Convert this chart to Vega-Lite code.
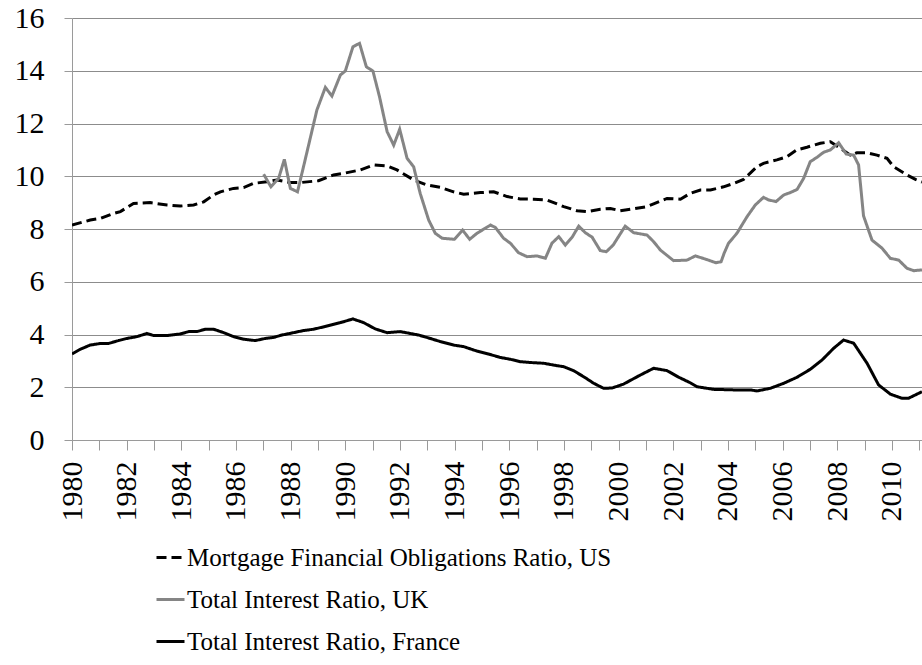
{
  "$schema": "https://vega.github.io/schema/vega-lite/v6.json",
  "autosize": {"type": "none"},
  "padding": {"left": 72, "top": 18, "right": 0, "bottom": 225},
  "width": 850,
  "height": 422,
  "background": "white",
  "config": {"view": {"stroke": null}, "font": "Liberation Serif"},
  "data": {"values": [
{"s":"US","year":1980.0,"value":8.15},{"s":"US","year":1980.67,"value":8.34},{"s":"US","year":1981.04,"value":8.40},{"s":"US","year":1981.52,"value":8.59},{"s":"US","year":1981.77,"value":8.66},{"s":"US","year":1982.25,"value":8.97},{"s":"US","year":1982.86,"value":9.0},{"s":"US","year":1983.48,"value":8.91},{"s":"US","year":1983.96,"value":8.87},{"s":"US","year":1984.45,"value":8.91},{"s":"US","year":1984.82,"value":9.03},{"s":"US","year":1985.18,"value":9.29},{"s":"US","year":1985.43,"value":9.41},{"s":"US","year":1985.91,"value":9.54},{"s":"US","year":1986.28,"value":9.57},{"s":"US","year":1986.64,"value":9.73},{"s":"US","year":1987.13,"value":9.79},{"s":"US","year":1987.5,"value":9.86},{"s":"US","year":1987.99,"value":9.76},{"s":"US","year":1988.35,"value":9.76},{"s":"US","year":1989.02,"value":9.83},{"s":"US","year":1989.57,"value":10.05},{"s":"US","year":1989.94,"value":10.11},{"s":"US","year":1990.55,"value":10.24},{"s":"US","year":1991.04,"value":10.43},{"s":"US","year":1991.53,"value":10.39},{"s":"US","year":1991.89,"value":10.24},{"s":"US","year":1992.5,"value":9.86},{"s":"US","year":1992.99,"value":9.67},{"s":"US","year":1993.48,"value":9.58},{"s":"US","year":1993.96,"value":9.41},{"s":"US","year":1994.33,"value":9.32},{"s":"US","year":1994.94,"value":9.38},{"s":"US","year":1995.43,"value":9.41},{"s":"US","year":1995.92,"value":9.23},{"s":"US","year":1996.4,"value":9.14},{"s":"US","year":1996.89,"value":9.13},{"s":"US","year":1997.38,"value":9.10},{"s":"US","year":1997.99,"value":8.85},{"s":"US","year":1998.48,"value":8.69},{"s":"US","year":1998.84,"value":8.66},{"s":"US","year":1999.33,"value":8.75},{"s":"US","year":1999.7,"value":8.78},{"s":"US","year":2000.06,"value":8.69},{"s":"US","year":2000.43,"value":8.75},{"s":"US","year":2001.04,"value":8.85},{"s":"US","year":2001.28,"value":8.95},{"s":"US","year":2001.77,"value":9.16},{"s":"US","year":2002.26,"value":9.13},{"s":"US","year":2002.62,"value":9.35},{"s":"US","year":2002.99,"value":9.48},{"s":"US","year":2003.36,"value":9.48},{"s":"US","year":2003.84,"value":9.6},{"s":"US","year":2004.21,"value":9.73},{"s":"US","year":2004.57,"value":9.88},{"s":"US","year":2005.06,"value":10.36},{"s":"US","year":2005.3,"value":10.49},{"s":"US","year":2005.79,"value":10.62},{"s":"US","year":2006.16,"value":10.74},{"s":"US","year":2006.52,"value":11.0},{"s":"US","year":2006.89,"value":11.1},{"s":"US","year":2007.38,"value":11.25},{"s":"US","year":2007.75,"value":11.31},{"s":"US","year":2008.11,"value":11.06},{"s":"US","year":2008.48,"value":10.8},{"s":"US","year":2008.72,"value":10.89},{"s":"US","year":2009.09,"value":10.89},{"s":"US","year":2009.45,"value":10.8},{"s":"US","year":2009.82,"value":10.68},{"s":"US","year":2010.06,"value":10.36},{"s":"US","year":2010.55,"value":10.05},{"s":"US","year":2010.86,"value":9.88},{"s":"US","year":2011.1,"value":9.78},
{"s":"UK","year":1987.01,"value":10.08},{"s":"UK","year":1987.28,"value":9.6},{"s":"UK","year":1987.56,"value":9.92},{"s":"UK","year":1987.77,"value":10.64},{"s":"UK","year":1987.99,"value":9.54},{"s":"UK","year":1988.25,"value":9.41},{"s":"UK","year":1988.5,"value":10.49},{"s":"UK","year":1988.78,"value":11.72},{"s":"UK","year":1988.96,"value":12.51},{"s":"UK","year":1989.27,"value":13.37},{"s":"UK","year":1989.51,"value":13.04},{"s":"UK","year":1989.82,"value":13.84},{"s":"UK","year":1990.0,"value":13.99},{"s":"UK","year":1990.28,"value":14.91},{"s":"UK","year":1990.52,"value":15.04},{"s":"UK","year":1990.77,"value":14.15},{"s":"UK","year":1991.01,"value":13.99},{"s":"UK","year":1991.25,"value":13.02},{"s":"UK","year":1991.53,"value":11.69},{"s":"UK","year":1991.77,"value":11.18},{"s":"UK","year":1991.99,"value":11.78},{"s":"UK","year":1992.26,"value":10.68},{"s":"UK","year":1992.5,"value":10.36},{"s":"UK","year":1992.74,"value":9.35},{"s":"UK","year":1993.05,"value":8.34},{"s":"UK","year":1993.29,"value":7.84},{"s":"UK","year":1993.54,"value":7.65},{"s":"UK","year":1993.99,"value":7.61},{"s":"UK","year":1994.29,"value":7.96},{"s":"UK","year":1994.55,"value":7.61},{"s":"UK","year":1994.82,"value":7.84},{"s":"UK","year":1995.31,"value":8.15},{"s":"UK","year":1995.49,"value":8.06},{"s":"UK","year":1995.79,"value":7.65},{"s":"UK","year":1996.04,"value":7.46},{"s":"UK","year":1996.34,"value":7.1},{"s":"UK","year":1996.65,"value":6.95},{"s":"UK","year":1997.01,"value":6.98},{"s":"UK","year":1997.32,"value":6.89},{"s":"UK","year":1997.56,"value":7.46},{"s":"UK","year":1997.81,"value":7.71},{"s":"UK","year":1998.05,"value":7.39},{"s":"UK","year":1998.3,"value":7.69},{"s":"UK","year":1998.54,"value":8.11},{"s":"UK","year":1998.78,"value":7.86},{"s":"UK","year":1999.03,"value":7.69},{"s":"UK","year":1999.33,"value":7.18},{"s":"UK","year":1999.55,"value":7.14},{"s":"UK","year":1999.8,"value":7.39},{"s":"UK","year":2000.24,"value":8.11},{"s":"UK","year":2000.55,"value":7.86},{"s":"UK","year":2001.04,"value":7.77},{"s":"UK","year":2001.28,"value":7.52},{"s":"UK","year":2001.53,"value":7.2},{"s":"UK","year":2002.01,"value":6.8},{"s":"UK","year":2002.5,"value":6.82},{"s":"UK","year":2002.81,"value":6.98},{"s":"UK","year":2003.2,"value":6.85},{"s":"UK","year":2003.56,"value":6.72},{"s":"UK","year":2003.75,"value":6.76},{"s":"UK","year":2003.86,"value":7.08},{"s":"UK","year":2004.02,"value":7.46},{"s":"UK","year":2004.33,"value":7.84},{"s":"UK","year":2004.7,"value":8.47},{"s":"UK","year":2005.0,"value":8.91},{"s":"UK","year":2005.3,"value":9.2},{"s":"UK","year":2005.49,"value":9.1},{"s":"UK","year":2005.76,"value":9.04},{"s":"UK","year":2006.04,"value":9.29},{"s":"UK","year":2006.28,"value":9.38},{"s":"UK","year":2006.53,"value":9.5},{"s":"UK","year":2006.77,"value":9.92},{"s":"UK","year":2007.01,"value":10.55},{"s":"UK","year":2007.26,"value":10.72},{"s":"UK","year":2007.5,"value":10.91},{"s":"UK","year":2007.75,"value":11.0},{"s":"UK","year":2008.05,"value":11.27},{"s":"UK","year":2008.33,"value":10.84},{"s":"UK","year":2008.6,"value":10.8},{"s":"UK","year":2008.78,"value":10.43},{"s":"UK","year":2008.96,"value":8.5},{"s":"UK","year":2009.27,"value":7.58},{"s":"UK","year":2009.64,"value":7.27},{"s":"UK","year":2009.94,"value":6.89},{"s":"UK","year":2010.25,"value":6.82},{"s":"UK","year":2010.55,"value":6.51},{"s":"UK","year":2010.8,"value":6.42},{"s":"UK","year":2011.1,"value":6.45},
{"s":"FR","year":1980.0,"value":3.26},{"s":"FR","year":1980.3,"value":3.44},{"s":"FR","year":1980.67,"value":3.6},{"s":"FR","year":1981.04,"value":3.66},{"s":"FR","year":1981.34,"value":3.66},{"s":"FR","year":1981.7,"value":3.77},{"s":"FR","year":1982.01,"value":3.85},{"s":"FR","year":1982.38,"value":3.92},{"s":"FR","year":1982.74,"value":4.04},{"s":"FR","year":1982.99,"value":3.96},{"s":"FR","year":1983.48,"value":3.96},{"s":"FR","year":1983.96,"value":4.02},{"s":"FR","year":1984.27,"value":4.11},{"s":"FR","year":1984.57,"value":4.11},{"s":"FR","year":1984.88,"value":4.2},{"s":"FR","year":1985.18,"value":4.2},{"s":"FR","year":1985.55,"value":4.07},{"s":"FR","year":1985.91,"value":3.92},{"s":"FR","year":1986.28,"value":3.82},{"s":"FR","year":1986.71,"value":3.77},{"s":"FR","year":1987.07,"value":3.85},{"s":"FR","year":1987.38,"value":3.89},{"s":"FR","year":1987.68,"value":3.98},{"s":"FR","year":1988.11,"value":4.07},{"s":"FR","year":1988.47,"value":4.15},{"s":"FR","year":1988.84,"value":4.2},{"s":"FR","year":1989.33,"value":4.32},{"s":"FR","year":1989.82,"value":4.45},{"s":"FR","year":1990.28,"value":4.59},{"s":"FR","year":1990.67,"value":4.45},{"s":"FR","year":1991.1,"value":4.21},{"s":"FR","year":1991.53,"value":4.07},{"s":"FR","year":1992.01,"value":4.11},{"s":"FR","year":1992.68,"value":3.98},{"s":"FR","year":1993.11,"value":3.85},{"s":"FR","year":1993.48,"value":3.73},{"s":"FR","year":1993.96,"value":3.6},{"s":"FR","year":1994.33,"value":3.54},{"s":"FR","year":1994.82,"value":3.37},{"s":"FR","year":1995.24,"value":3.26},{"s":"FR","year":1995.67,"value":3.13},{"s":"FR","year":1996.04,"value":3.06},{"s":"FR","year":1996.4,"value":2.97},{"s":"FR","year":1996.89,"value":2.93},{"s":"FR","year":1997.26,"value":2.91},{"s":"FR","year":1997.62,"value":2.84},{"s":"FR","year":1997.99,"value":2.78},{"s":"FR","year":1998.35,"value":2.63},{"s":"FR","year":1998.72,"value":2.4},{"s":"FR","year":1999.09,"value":2.15},{"s":"FR","year":1999.45,"value":1.96},{"s":"FR","year":1999.76,"value":1.97},{"s":"FR","year":2000.18,"value":2.12},{"s":"FR","year":2000.79,"value":2.46},{"s":"FR","year":2001.28,"value":2.72},{"s":"FR","year":2001.77,"value":2.63},{"s":"FR","year":2002.2,"value":2.38},{"s":"FR","year":2002.62,"value":2.17},{"s":"FR","year":2002.87,"value":2.02},{"s":"FR","year":2003.48,"value":1.92},{"s":"FR","year":2004.21,"value":1.9},{"s":"FR","year":2004.82,"value":1.9},{"s":"FR","year":2005.06,"value":1.86},{"s":"FR","year":2005.55,"value":1.96},{"s":"FR","year":2006.04,"value":2.15},{"s":"FR","year":2006.53,"value":2.38},{"s":"FR","year":2007.01,"value":2.68},{"s":"FR","year":2007.44,"value":3.03},{"s":"FR","year":2007.87,"value":3.48},{"s":"FR","year":2008.23,"value":3.79},{"s":"FR","year":2008.6,"value":3.67},{"s":"FR","year":2009.09,"value":2.91},{"s":"FR","year":2009.51,"value":2.09},{"s":"FR","year":2009.94,"value":1.74},{"s":"FR","year":2010.37,"value":1.58},{"s":"FR","year":2010.6,"value":1.58},{"s":"FR","year":2011.1,"value":1.83}
  ]},
  "mark": {"type": "line", "strokeWidth": 3, "clip": true},
  "encoding": {
    "x": {
      "field": "year", "type": "quantitative",
      "scale": {"domain": [1980, 2011.1], "nice": false, "zero": false},
      "axis": {
        "title": null,
        "values": [1980,1981,1982,1983,1984,1985,1986,1987,1988,1989,1990,1991,1992,1993,1994,1995,1996,1997,1998,1999,2000,2001,2002,2003,2004,2005,2006,2007,2008,2009,2010,2011],
        "format": "d",
        "labelExpr": "datum.value % 2 === 0 ? datum.label : ''",
        "labelAngle": 270,
        "labelFont": "Liberation Serif, Times New Roman, serif", "labelFontSize": 30, "labelColor": "black",
        "labelPadding": 11, "labelOverlap": false, "labelFlush": false, "labelBound": false,
        "tickSize": 10, "tickColor": "#9a9a9a", "tickWidth": 1,
        "domainColor": "#9a9a9a", "domainWidth": 1,
        "grid": false
      }
    },
    "y": {
      "field": "value", "type": "quantitative",
      "scale": {"domain": [0, 16], "nice": false},
      "axis": {
        "title": null,
        "values": [0,2,4,6,8,10,12,14,16],
        "labelFont": "Liberation Serif, Times New Roman, serif", "labelFontSize": 30, "labelColor": "black",
        "labelPadding": 20,
        "tickSize": 8, "tickColor": "#9a9a9a",
        "domainColor": "#9a9a9a",
        "grid": true, "gridColor": "#8c8c8c", "gridWidth": 1
      }
    },
    "color": {
      "field": "s", "type": "nominal",
      "scale": {"domain": ["US", "UK", "FR"], "range": ["#000000", "#858585", "#000000"]},
      "legend": {
        "title": null, "orient": "none", "legendX": 83, "legendY": 524,
        "symbolType": "stroke", "symbolSize": 784, "symbolStrokeWidth": 3,
        "labelFont": "Liberation Serif, Times New Roman, serif", "labelFontSize": 25, "labelColor": "black",
        "labelLimit": 0, "rowPadding": 13, "padding": 0, "labelOffset": 1,
        "labelExpr": "datum.label === 'US' ? 'Mortgage Financial Obligations Ratio, US' : datum.label === 'UK' ? 'Total Interest Ratio, UK' : 'Total Interest Ratio, France'"
      }
    },
    "strokeDash": {
      "field": "s", "type": "nominal",
      "scale": {"domain": ["US", "UK", "FR"], "range": [[10, 5], [1, 0], [1, 0]]},
      "legend": {
        "title": null, "orient": "none", "legendX": 83, "legendY": 524,
        "symbolType": "stroke", "symbolSize": 784, "symbolStrokeWidth": 3,
        "labelFont": "Liberation Serif, Times New Roman, serif", "labelFontSize": 25, "labelColor": "black",
        "labelLimit": 0, "rowPadding": 13, "padding": 0, "labelOffset": 1,
        "labelExpr": "datum.label === 'US' ? 'Mortgage Financial Obligations Ratio, US' : datum.label === 'UK' ? 'Total Interest Ratio, UK' : 'Total Interest Ratio, France'"
      }
    }
  }
}
